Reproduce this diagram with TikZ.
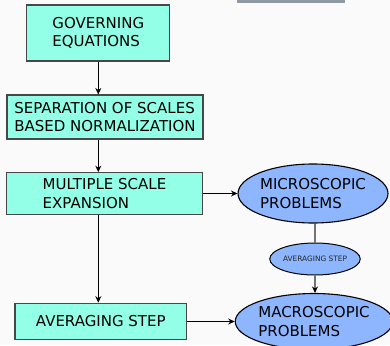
\documentclass[tikz,border=0pt]{standalone}
\usepackage{fontspec}
\setmainfont{DejaVu Sans}
\usetikzlibrary{shapes.geometric,arrows.meta}
\definecolor{bgcol}{HTML}{FAFAFA}
\definecolor{boxcol}{HTML}{92FFE6}
\definecolor{blobcol}{HTML}{8DB6FF}
\definecolor{barcol}{HTML}{8E99A3}
\begin{document}
\begin{tikzpicture}[x=1pt,y=-1pt,line width=1.1pt,box node/.style={rectangle,draw=black!72,fill=boxcol,inner sep=0pt,align=left,font=\fontsize{15}{18.5}\selectfont},blob node/.style={ellipse,draw=black,fill=blobcol,inner sep=0pt,align=left,font=\fontsize{15}{18.5}\selectfont}]%
\path[use as bounding box,fill=bgcol] (0,0) rectangle (390,345);
\fill[barcol] (237,0) rectangle (345,3);%bar
\begin{scope}
\node[box node,minimum width=143pt,minimum height=56pt] (gov) at (98.3,33) {GOVERNING\\EQUATIONS};%1
\node[box node,minimum width=196pt,minimum height=44pt] (sep) at (105,117) {SEPARATION OF SCALES\\BASED NORMALIZATION};%2
\node[box node,minimum width=195.6pt,minimum height=41.6pt] (mse) at (104.5,193.5) {MULTIPLE SCALE\\EXPANSION};%3
\node[box node,minimum width=171.7pt,minimum height=36.6pt] (avg) at (100.8,321.5) {AVERAGING STEP};%4
\node[blob node,minimum width=150pt,minimum height=59pt] (micro) at (313,193.5) {MICROSCOPIC\\PROBLEMS};%5
\node[blob node,minimum width=88pt,minimum height=32pt,line width=1pt,font=\fontsize{7.4}{9}\selectfont,text=black!85] (avgs) at (315,259) {AVERAGING STEP};%6
\node[blob node,minimum width=153pt,minimum height=56pt] (macro) at (314,321.5) {MACROSCOPIC\\PROBLEMS};%7
\end{scope}
\begin{scope}[every edge/.style={draw=black,line width=1pt,-{Stealth[length=6.5pt,width=6pt]}}]
\draw  (gov) edge (gov |- sep.north);
\draw  (gov |- sep.south) edge (gov |- mse.north);
\draw  (gov |- mse.south) edge (gov |- avg.north);
\draw  (mse) edge (micro);
\draw  (avg) edge (macro);
\draw[draw=black!55,line width=1.5pt]  (avgs |- micro.south) -- (avgs);
\draw  (avgs) edge[draw=black!55,line width=1.5pt,-{Stealth[length=6.5pt,width=6pt,black]}] (avgs |- macro.north);
\end{scope}
\end{tikzpicture}
\end{document}
